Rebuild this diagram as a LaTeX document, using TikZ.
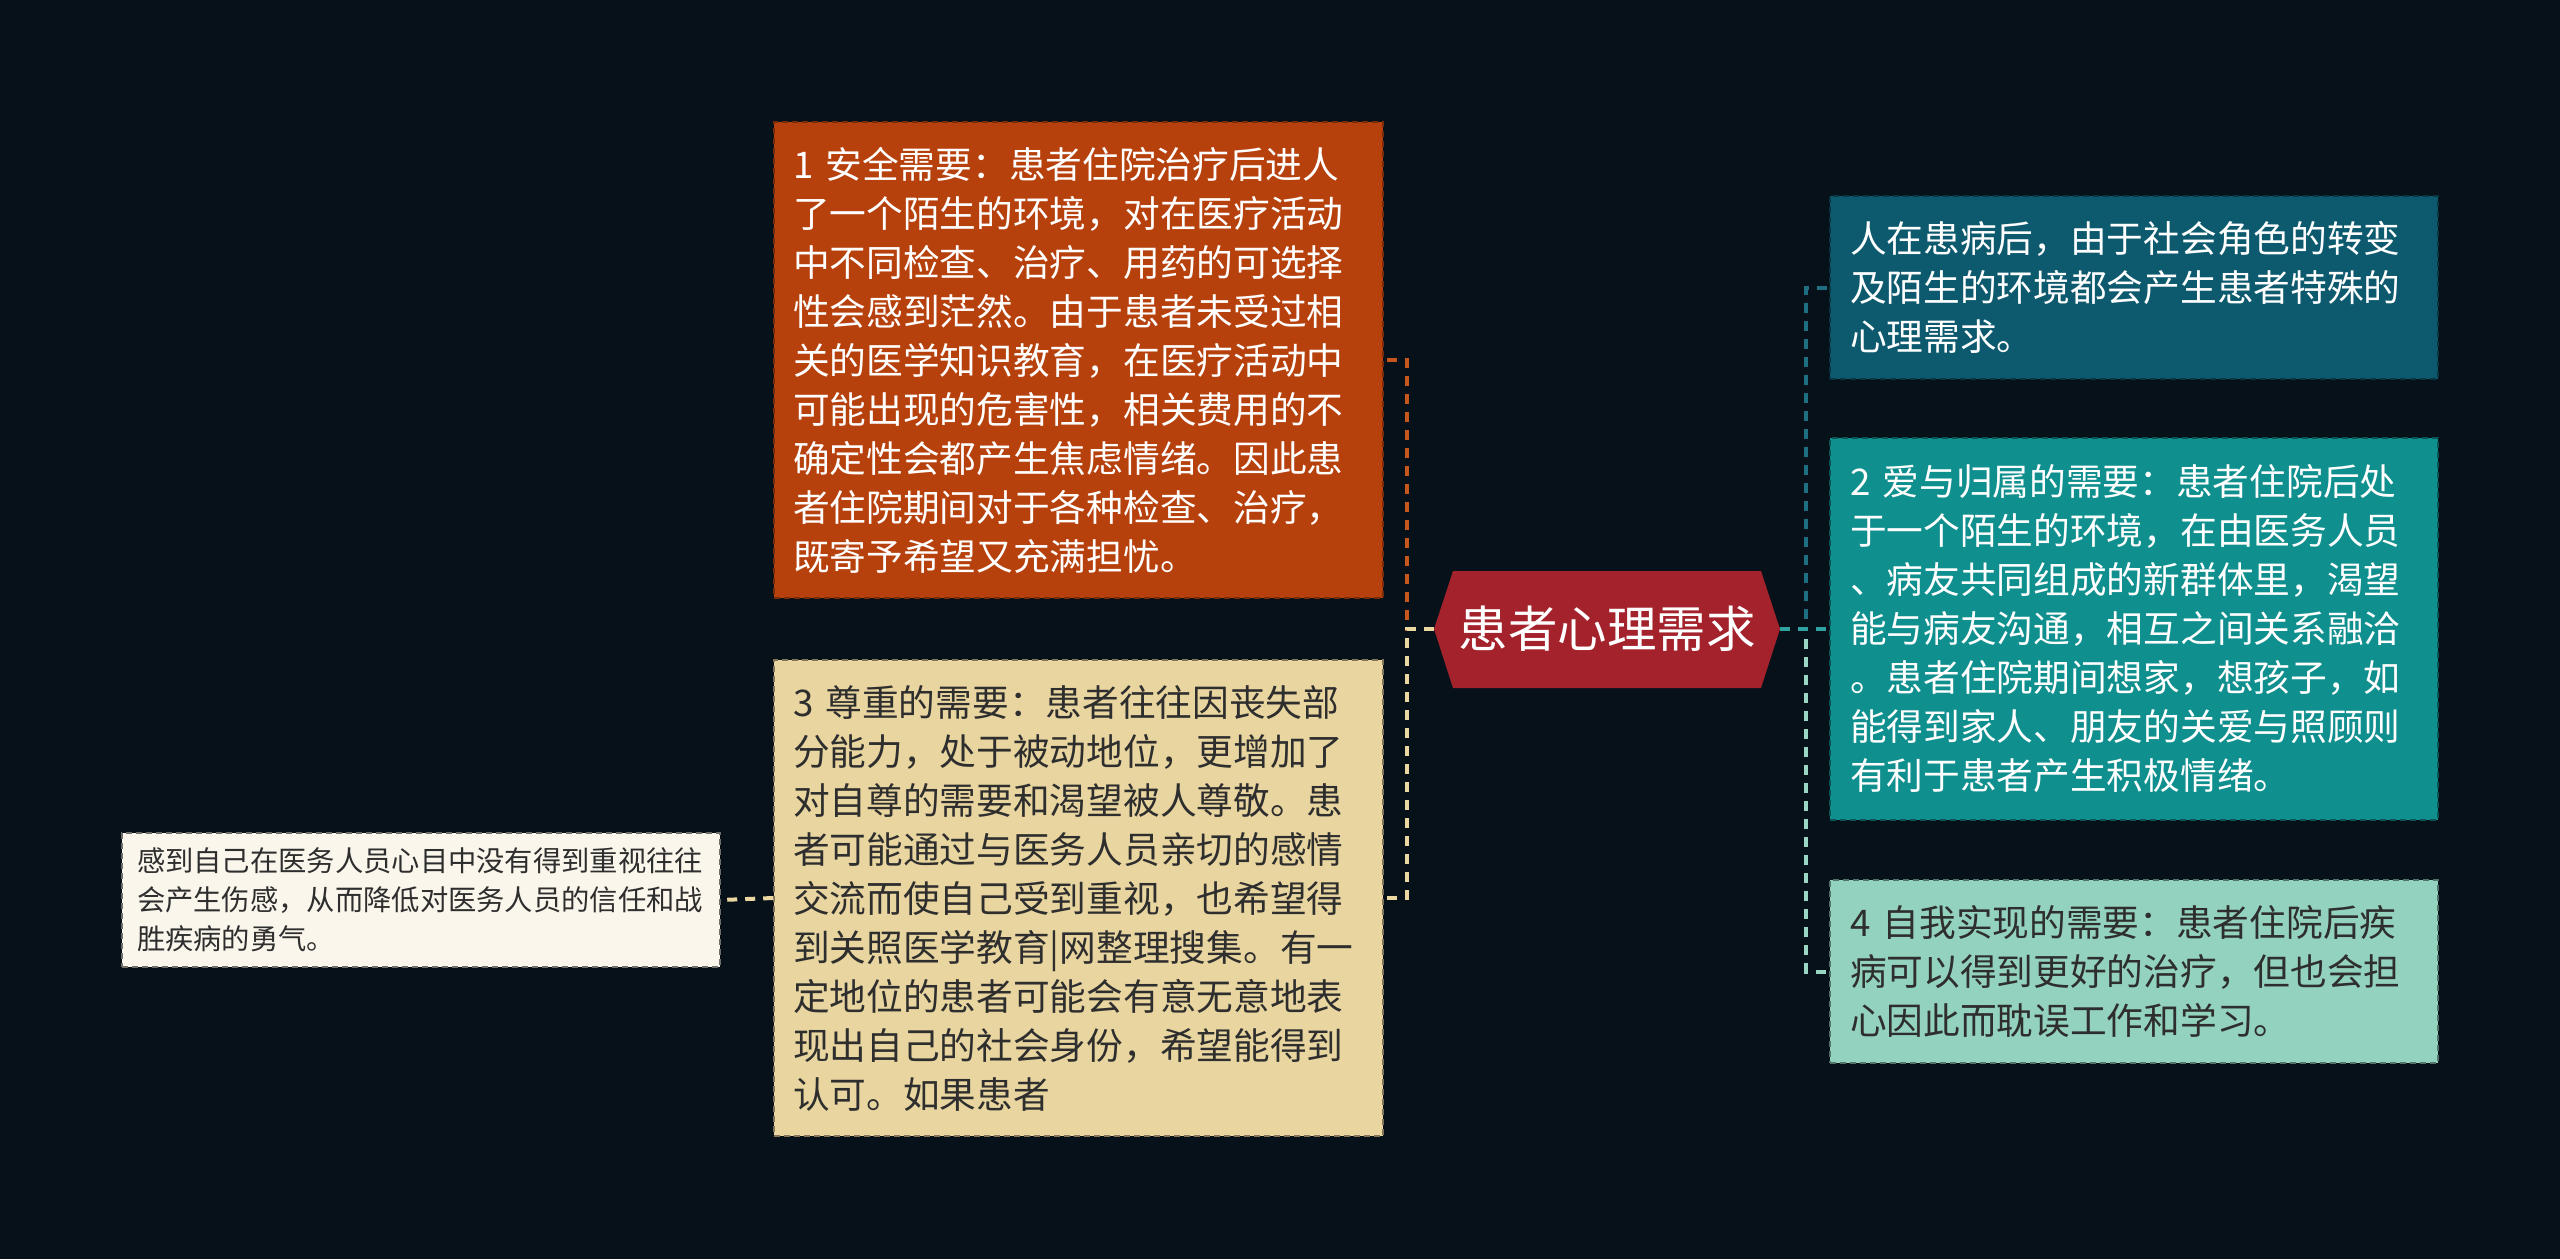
\documentclass[tikz,border=0pt]{standalone}
\usepackage{fontspec}
\newfontfamily\cjk{Noto Sans CJK SC}
\definecolor{bg}{HTML}{07111A}
\definecolor{orfill}{HTML}{B7410C}
\definecolor{befill}{HTML}{E8D5A0}
\definecolor{lffill}{HTML}{FAF6EC}
\definecolor{dtfill}{HTML}{0D5A6E}
\definecolor{tefill}{HTML}{0F8F8E}
\definecolor{mifill}{HTML}{93D2BE}
\definecolor{hubred}{HTML}{A3222B}
\definecolor{darktext}{HTML}{2E2E2E}
\definecolor{lnor}{HTML}{C8571C}
\definecolor{lnbe}{HTML}{EAD7A2}
\definecolor{lndt}{HTML}{1F6F82}
\definecolor{lnte}{HTML}{2EA3A0}
\definecolor{lnmi}{HTML}{9AD6C4}
\tikzset{
  card/.style={rectangle, line width=0.8pt, dash pattern=on 3pt off 2pt,
    align=left, inner ysep=0pt, inner xsep=9.5pt, text width=285.5pt,
    font=\cjk\fontsize{18.35pt}{24.5pt}\selectfont},
  leafcard/.style={rectangle, line width=0.8pt, dash pattern=on 3pt off 2pt,
    align=left, inner ysep=0pt, inner xsep=7.5pt, text width=284pt,
    minimum height=67pt,
    font=\cjk\fontsize{14.15pt}{19.5pt}\selectfont},
  conn/.style={line width=2pt, dash pattern=on 5pt off 4pt},
  hubtext/.style={rectangle, inner sep=0pt, minimum width=173pt, minimum height=58.5pt,
    text=white, font=\cjk\fontsize{24.75pt}{30pt}\selectfont}
}
\begin{document}
\begin{tikzpicture}[x=0.5pt,y=-0.5pt]
\useasboundingbox (0,0) rectangle (2560,1259);
\fill[bg] (0,0) rectangle (2560,1259);

% hub
\fill[hubred] (1434,629) -- (1453,571) -- (1761,571) -- (1780,629) -- (1761,688) -- (1453,688) -- cycle;
\node[hubtext] (hub) at (1607,629) {患者心理需求};

% left cards
\node[card, fill=orfill, draw=orfill!65!black, text=white, minimum height=238pt] (b1) at (1078.5,360) {1 安全需要：患者住院治疗后进人\\
了一个陌生的环境，对在医疗活动\\
中不同检查、治疗、用药的可选择\\
性会感到茫然。由于患者未受过相\\
关的医学知识教育，在医疗活动中\\
可能出现的危害性，相关费用的不\\
确定性会都产生焦虑情绪。因此患\\
者住院期间对于各种检查、治疗，\\
既寄予希望又充满担忧。};

\node[card, fill=befill, draw=befill!55!black, text=darktext, minimum height=238pt] (b3) at (1078.5,898) {3 尊重的需要：患者往往因丧失部\\
分能力，处于被动地位，更增加了\\
对自尊的需要和渴望被人尊敬。患\\
者可能通过与医务人员亲切的感情\\
交流而使自己受到重视，也希望得\\
到关照医学教育|网整理搜集。有一\\
定地位的患者可能会有意无意地表\\
现出自己的社会身份，希望能得到\\
认可。如果患者};

\node[leafcard, fill=lffill, draw=lffill!45!black, text=darktext] (lf) at (421,900) {感到自己在医务人员心目中没有得到重视往往\\
会产生伤感，从而降低对医务人员的信任和战\\
胜疾病的勇气。};

% right cards
\node[card, inner xsep=10pt, text width=284pt, fill=dtfill, draw=dtfill!60!black, text=white, minimum height=91.5pt] (t0) at (2134,287.5) {人在患病后，由于社会角色的转变\\
及陌生的环境都会产生患者特殊的\\
心理需求。};

\node[card, inner xsep=10pt, text width=284pt, fill=tefill, draw=tefill!60!black, text=white, minimum height=191pt] (b2) at (2134,629) {2 爱与归属的需要：患者住院后处\\
于一个陌生的环境，在由医务人员\\
、病友共同组成的新群体里，渴望\\
能与病友沟通，相互之间关系融洽\\
。患者住院期间想家，想孩子，如\\
能得到家人、朋友的关爱与照顾则\\
有利于患者产生积极情绪。};

\node[card, inner xsep=10pt, text width=284pt, fill=mifill, draw=mifill!55!black, text=darktext, minimum height=91.5pt] (b4) at (2134,971.5) {4 自我实现的需要：患者住院后疾\\
病可以得到更好的治疗，但也会担\\
心因此而耽误工作和学习。};

% connectors
\coordinate (lj) at (1407,629);
\coordinate (rj) at (1806,629);
\draw[conn, lnor] (hub.west) -- (lj) |- (b1.east);
\draw[conn, lnbe] (hub.west) -- (lj) |- (b3.east);
\draw[conn, lnbe] (b3.west) -- (lf.east);
\draw[conn, lndt] (hub.east) -- (rj) |- (t0.west);
\draw[conn, lnmi] (hub.east) -- (rj) |- (b4.west);
\draw[conn, lnte] (hub.east) -- (b2.west);
\end{tikzpicture}
\end{document}
